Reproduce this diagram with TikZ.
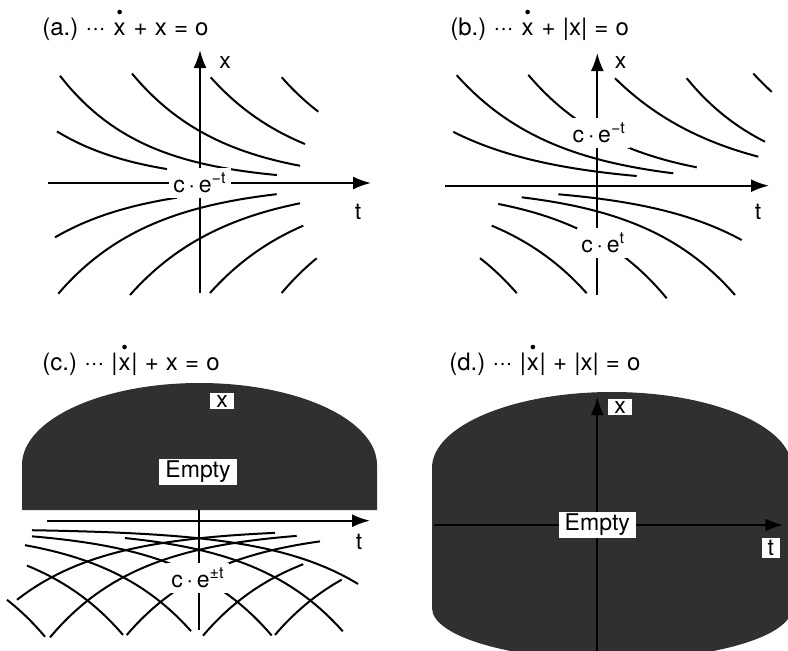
\documentclass[tikz,border=0pt]{standalone}
\usepackage{fontspec}
\setmainfont{TeX Gyre Heros}
\usetikzlibrary{arrows.meta}

\definecolor{inkgray}{gray}{0.19}
\newcommand{\gap}{\hspace{0.3em}}

\tikzset{
  curve/.style={line width=1pt},
  axis/.style={line width=1pt, -{Latex[length=9pt,width=6.5pt]}},
  title/.style={anchor=base west, inner sep=0pt, font=\fontsize{12}{14}\selectfont},
  lbl/.style={fill=white, inner xsep=2pt, inner ysep=2.5pt},
  tag/.style={fill=white, inner xsep=3pt, inner ysep=1.2pt},
  voidfill/.style={fill=inkgray}
}

\begin{document}
\begin{tikzpicture}[x=0.5pt, y=0.5pt, font=\fontsize{11.5}{13.8}\selectfont]
   \useasboundingbox (0,0) rectangle (788,650);
   \clip (0,0) rectangle (788,650);

   \node[title] (a-head) at (42,615) {(a.)\gap···\gap\mbox{}};
   \node[title] (a-dx) at (a-head.base east) {x};
   \node[title] (a-tail) at (a-dx.base east) {\gap+\gap x\gap=\gap o};
   \node[title] (b-head) at (450,615) {(b.)\gap···\gap\mbox{}};
   \node[title] (b-dx) at (b-head.base east) {x};
   \node[title] (b-tail) at (b-dx.base east) {\gap+\gap|x|\gap=\gap o};
   \node[title] (c-head) at (42,280) {(c.)\gap···\gap|};
   \node[title] (c-dx) at (c-head.base east) {x};
   \node[title] (c-tail) at (c-dx.base east) {|\gap+\gap x\gap=\gap o};
   \node[title] (d-head) at (449,280) {(d.)\gap···\gap|};
   \node[title] (d-dx) at (d-head.base east) {x};
   \node[title] (d-tail) at (d-dx.base east) {|\gap+\gap|x|\gap=\gap o};
   \foreach \p in {a,b,c,d}
      \fill ([yshift=5pt]\p-dx.north) circle (1.15pt);

   % (a.)
   \begin{scope}[shift={(200,467)}]
      \coordinate (a-o) at (0,0);
      \coordinate (a-l) at (-152,0);
      \coordinate (a-r) at (171,0);
      \coordinate (a-b) at (0,-110);
      \coordinate (a-t) at (0,133);
      \draw[axis] (a-l) -- (a-r);
      \draw[axis] (a-b) -- (a-t);
      \foreach \amp/\rate/\lo/\hi in {
         9.41/0.0119/-143/-33,
         20/0.012/-140/77,
         51.8/0.011/-68/100,
         118.3/0.01057/10.7/105,
         254.6/0.01076/81.7/118.3
      }{
         \draw[curve] plot[domain=\lo:\hi, samples=40] (\x,{\amp*exp(-\rate*(\x))});
      }
      \foreach \amp/\rate/\lo/\hi in {
         11.45/0.01074/-145/-23.3,
         25/0.0105/-141.7/76.7,
         55.4/0.01005/-70/100,
         121.7/0.01014/10/103.3,
         266.5/0.01083/81.7/116.7
      }{
         \draw[curve] plot[domain=\lo:\hi, samples=40] (\x,{-\amp*exp(-\rate*(\x))});
      }
      \node[lbl] (a-sol) at (a-o) {c\,·\,e\textsuperscript{−t}};
      \node (a-xl) at (25,121) {x};
      \node (a-tl) at (158,-29) {t};
   \end{scope}

   % (b.)
   \begin{scope}[shift={(597.3,464.3)}]
      \coordinate (b-o) at (0,0);
      \coordinate (b-l) at (-152,0);
      \coordinate (b-r) at (171.7,0);
      \coordinate (b-b) at (0,-109.3);
      \coordinate (b-t) at (0,132.7);
      \draw[axis] (b-l) -- (b-r);
      \draw[axis] (b-b) -- (b-t);
      \foreach \amp/\rate/\lo/\hi in {
         26.7/0.0101/-140.6/76,
         14.0/0.00936/-144/39.4,
         53.1/0.01066/-69/99.4,
         126.3/0.00914/17.7/161,
         297.7/0.0114/89.4/167.7,
         510/0.0097/156/174.4
      }{
         \draw[curve] plot[domain=\lo:\hi, samples=40] (\x,{\amp*exp(-\rate*(\x))});
      }
      \foreach \amp/\rate/\lo/\hi in {
         12.72/0.01005/-39/144.4,
         25.7/0.01052/-75.6/137.7,
         53.2/0.0108/-99/69.4,
         120.1/0.01042/-105.6/-10.6,
         255/0.01072/-117.3/-80.6
      }{
         \draw[curve] plot[domain=\lo:\hi, samples=40] (\x,{-\amp*exp(\rate*(\x))});
      }
      \node[lbl] (b-up) at (2,53) {c\,·\,e\textsuperscript{−t}};
      \node[lbl] (b-dn) at (6,-57) {c\,·\,e\textsuperscript{t}};
      \node (b-xl) at (23.4,123.7) {x};
      \node (b-tl) at (160.7,-26.3) {t};
   \end{scope}

   % (c.)
   \fill[voidfill] (22,140) -- (22,185) arc[start angle=180, end angle=0, x radius=88.75pt, y radius=41pt] -- (377,140) -- cycle;
   \begin{scope}[shift={(199,129.3)}]
      \coordinate (c-o) at (0,0);
      \coordinate (c-l) at (-152.3,0);
      \coordinate (c-r) at (171,0);
      \coordinate (c-b) at (0,-109.3);
      \coordinate (c-t) at (0,10.7);
      \draw[axis] (c-l) -- (c-r);
      \draw[curve] (c-t) -- (c-b);
      \foreach \amp/\lo/\hi in {9.6/-167/159, 21.1/-74/143.8, 48/-167/72.7, 111.8/-174/-8, 245/-172/-76, 588/-192/-154}{
         \draw[curve] plot[domain=\lo:\hi, samples=40] (\x,{-(8+\amp*exp(0.011*(\x)))});
      }
      \foreach \amp/\lo/\hi in {9.6/-182/76, 21.1/-149/97.7, 48/-72.3/121, 111.8/4/104.3, 245/76/142.7}{
         \draw[curve] plot[domain=\lo:\hi, samples=40] (\x,{-(8+\amp*exp(-0.011*(\x)))});
      }
      \node[lbl] (c-sol) at (-1,-57) {c\,·\,e\textsuperscript{±t}};
      \node[tag] (c-xl) at (23,119.7) {x};
      \node[tag] (c-empty) at (-1,48.7) {Empty};
      \node (c-tl) at (160,-21.3) {t};
   \end{scope}

   % (d.)
   \fill[voidfill] (432,42) -- (432,182) arc[start angle=180, end angle=0, x radius=90pt, y radius=38pt]
      -- (792,42) arc[start angle=0, end angle=-180, x radius=90pt, y radius=26pt] -- cycle;
   \begin{scope}[shift={(597.3,125)}]
      \coordinate (d-o) at (0,0);
      \coordinate (d-l) at (-163,0);
      \coordinate (d-r) at (186,0);
      \coordinate (d-b) at (0,-135);
      \coordinate (d-t) at (0,128);
      \draw[axis] (d-l) -- (d-r);
      \draw[axis] (d-b) -- (d-t);
      \node[tag] (d-xl) at (22.7,118) {x};
      \node[tag] (d-empty) at (d-o) {Empty};
      \node[tag] (d-tl) at (173.4,-23.3) {t};
   \end{scope}
\end{tikzpicture}
\end{document}
